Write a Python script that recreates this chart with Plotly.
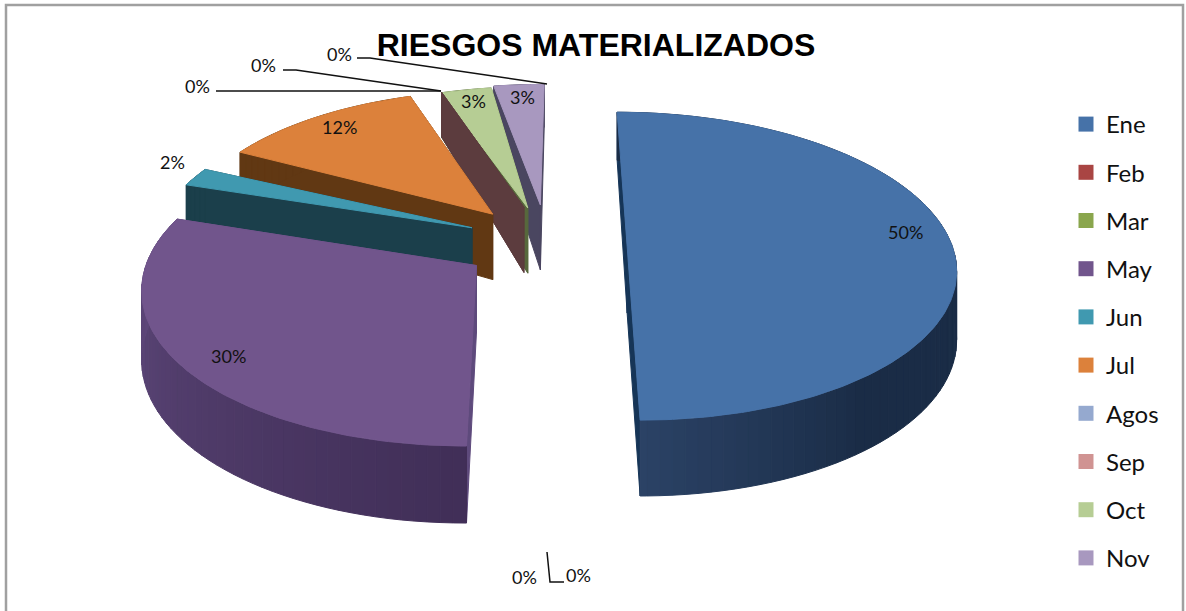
import numpy as np
import plotly.graph_objects as go

# --- data ---
months = ["Ene", "Feb", "Mar", "May", "Jun", "Jul", "Agos", "Sep", "Oct", "Nov"]
values = [50, 0, 0, 30, 2, 12, 0, 0, 3, 3]
top_colors = ["#4672a8", "#a94543", "#8aa64d", "#71558c", "#4099b0",
              "#dc813b", "#95a9cf", "#d09392", "#b6cd94", "#a898bf"]
chart_title = "RIESGOS MATERIALIZADOS"
zero_label = "0%"

# --- fake 3d: disc plane -> page pixels, homography fitted to the reference ---
VX, VY = 541, -909
A, B, K = 325, 1155, 0.131
W, H = 1186, 611

# (explosion, direction offset deg, angle shift deg, radius)
explode = {
    "Ene": (0.265, 0, 0, 1.0),
    "May": (0.233, 3, 0, 1.0),
    "Jun": (0.248, 8, 0, 0.985),
    "Jul": (0.265, 8, 3.0, 0.97),
    "Sep": (0.270, 10, 3.4, 0.955),
    "Oct": (0.263, 7, 2.7, 0.96),
    "Nov": (0.281, 5, 0.8, 0.96),
}
# outer wall colours
wall_from = {"Ene": "#1a2c46", "May": "#412f58", "Jun": "#1b3f4b", "Jul": "#613813",
             "Sep": "#5c3c3e", "Oct": "#57683c", "Nov": "#4a4660"}
wall_to = {"Ene": "#2b4265", "May": "#634c80", "Jun": "#1b3f4b", "Jul": "#613813",
           "Sep": "#5c3c3e", "Oct": "#57683c", "Nov": "#4a4660"}
side_color = {"Ene": "#163557", "May": "#5e4a7c", "Jun": "#1b3f4b", "Jul": "#613813",
              "Sep": "#5c3c3e", "Oct": "#57683c", "Nov": "#4a4660"}
draw_order = ["Nov", "Oct", "Sep", "Jul", "Jun", "May", "Ene"]


def project(px, py, drop=False):
    s = 1 / (1 + K * np.asarray(py, dtype=float))
    x = VX + A * np.asarray(px) * s
    y = VY + B * s
    if drop:
        y = y + np.interp(s, [0.86, 0.965, 1.17], [43, 65, 77])
    return x, y


def mix(c1, c2, t):
    a = [int(c1[i:i + 2], 16) for i in (1, 3, 5)]
    b = [int(c2[i:i + 2], 16) for i in (1, 3, 5)]
    return "rgb(%d,%d,%d)" % tuple(a[i] + (b[i] - a[i]) * t for i in range(3))


def poly(fig, x, y, color):
    fig.add_trace(go.Scatter(
        x=list(x) + [x[0]], y=list(y) + [y[0]], mode="lines", fill="toself",
        fillcolor=color, line=dict(color=color, width=1),
        hoverinfo="skip", showlegend=False,
    ))


def add_slice(fig, name, start, sweep):
    mag, dir_off, shift, rad = explode[name]
    mid = np.radians(start + sweep / 2 + dir_off)
    ox, oy = mag * np.sin(mid), mag * np.cos(mid)

    ang = np.radians(np.linspace(start + shift, start + shift + sweep, max(2, int(sweep) + 2)))
    rim_x, rim_y = ox + rad * np.sin(ang), oy + rad * np.cos(ang)

    # the two flat walls
    for i in (-1, 0):
        xt, yt = project([ox, rim_x[i]], [oy, rim_y[i]])
        xb, yb = project([ox, rim_x[i]], [oy, rim_y[i]], drop=True)
        poly(fig, [xt[0], xt[1], xb[1], xb[0]], [yt[0], yt[1], yb[1], yb[0]], side_color[name])
    if sweep == 0:
        return

    # outer wall in bands
    xt, yt = project(rim_x, rim_y)
    xb, yb = project(rim_x, rim_y, drop=True)
    step = 2
    for i in range(0, len(ang) - 1, step):
        j = min(i + step, len(ang) - 1)
        a_deg = np.degrees(ang[i])
        t = np.interp(a_deg, [start + shift, start + shift + sweep], [0, 1])
        if name == "Ene":
            t = np.interp(a_deg, [140, 178], [0, 1])
        elif name != "May":
            t = 1 - t
        seg = range(i, j + 1)
        poly(fig, [xt[k] for k in seg] + [xb[k] for k in reversed(seg)],
             [yt[k] for k in seg] + [yb[k] for k in reversed(seg)],
             mix(wall_from[name], wall_to[name], t))

    # top face
    tx, ty = project(np.r_[ox, rim_x], np.r_[oy, rim_y])
    poly(fig, tx, ty, top_colors[months.index(name)])


fig = go.Figure()

starts = dict(zip(months, np.cumsum([0] + values[:-1]) * 3.6))
sweeps = dict(zip(months, np.array(values) * 3.6))
for m in draw_order:
    add_slice(fig, m, starts[m], sweeps[m])

# leader lines of the zero labels
leaders = [
    ([216, 441], [91, 91]),
    ([283, 296, 441], [70, 70, 91]),
    ([357, 370, 547], [58, 58, 84]),
    ([547, 550, 564], [552, 582, 582]),
]
for lx, ly in leaders:
    fig.add_trace(go.Scatter(x=lx, y=ly, mode="lines", line=dict(color="#111111", width=1.5),
                             hoverinfo="skip", showlegend=False))

# legend
for name, col in zip(months, top_colors):
    fig.add_trace(go.Scatter(x=[None], y=[None], mode="markers", name=name, legendgroup=name,
                             marker=dict(symbol="square", size=15, color=col)))

# data labels
label_pos = {"Ene": (905, 232), "May": (228, 356), "Jun": (172, 162), "Jul": (339, 127),
             "Oct": (473, 101), "Nov": (522, 97)}
annos = []
for name, (lx, ly) in label_pos.items():
    annos.append(dict(x=lx, y=ly, text=f"{values[months.index(name)]}%"))
for lx, ly in [(197, 86), (263, 65), (339, 54), (524, 577), (578, 575)]:
    annos.append(dict(x=lx, y=ly, text=zero_label))
for a in annos:
    a.update(xref="x", yref="y", showarrow=False, font=dict(family="Lato", size=18, color="#111111"))

fig.update_layout(
    width=W, height=H,
    margin=dict(l=0, r=0, t=0, b=0),
    paper_bgcolor="white", plot_bgcolor="white",
    xaxis=dict(range=[0, W], visible=False, fixedrange=True),
    yaxis=dict(range=[H, 0], visible=False, fixedrange=True),
    title=dict(text=chart_title, x=596 / W, y=1 - 45 / H, xanchor="center", yanchor="middle",
               font=dict(family="Liberation Sans", size=32, color="black", weight="bold")),
    legend=dict(x=1066 / W, y=1 - 102 / H, xanchor="left", yanchor="top", tracegroupgap=14,
                font=dict(family="Lato", size=24, color="#111111"), bgcolor="rgba(0,0,0,0)"),
    annotations=annos,
    shapes=[dict(type="rect", xref="paper", yref="paper", x0=6 / W, x1=1183 / W, y0=-0.02, y1=1 - 5 / H,
                 line=dict(color="#a0a0a0", width=2.5), layer="below")],
    showlegend=True,
)

# browser default body margin would shift the page by 8px
fig.write_html("out.html", config={"displayModeBar": False},
               post_script="document.body.style.margin='0';document.body.style.overflow='hidden';")
